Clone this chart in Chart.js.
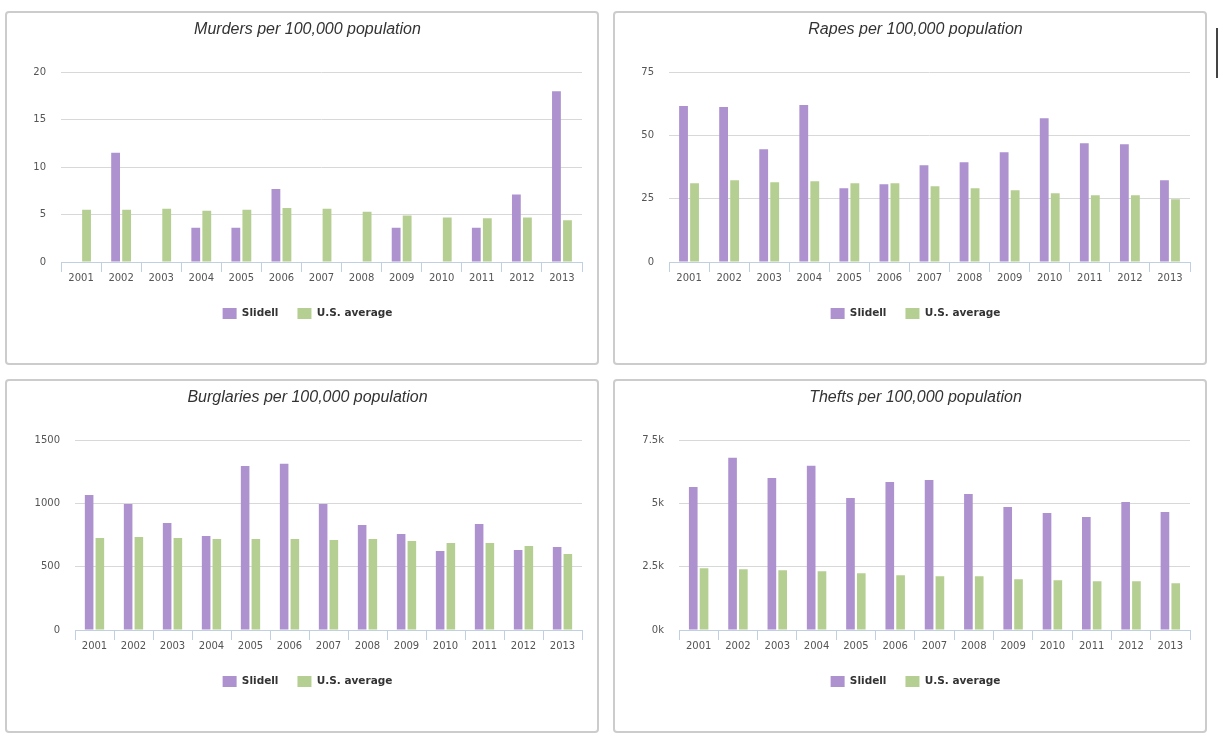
<!DOCTYPE html>
<html>
<head>
<meta charset="utf-8">
<script src="https://cdn.jsdelivr.net/npm/chart.js@4.4.1/dist/chart.umd.min.js"></script>
<style>
  html, body { margin: 0; padding: 0; background: #fff; }
  body { width: 1218px; height: 744px; position: relative; overflow: hidden; }
  .panel {
    position: absolute;
    width: 594px; height: 354px;
    box-sizing: border-box;
    border: 2px solid #cccccc;
    border-radius: 4px;
    background: #fff;
  }
  .panel .inner { position: relative; width: 590px; height: 350px; }
  .bar-edge { position: absolute; left: 1216px; top: 28px; width: 2px; height: 50px; background: #444; }
</style>
</head>
<body>
  <div class="panel" style="left:5px; top:11px;"><div class="inner"><canvas id="murders"></canvas></div></div>
  <div class="panel" style="left:613px; top:11px;"><div class="inner"><canvas id="rapes"></canvas></div></div>
  <div class="panel" style="left:5px; top:379px;"><div class="inner"><canvas id="burglaries"></canvas></div></div>
  <div class="panel" style="left:613px; top:379px;"><div class="inner"><canvas id="thefts"></canvas></div></div>
  <div class="bar-edge"></div>

<script>
// 年
const years = ['2001', '2002', '2003', '2004', '2005', '2006', '2007', '2008', '2009', '2010', '2011', '2012', '2013'];

// 殺人
const murdersSlidell = [0, 11.5, 0, 3.6, 3.6, 7.7, 0, 0, 3.6, 0, 3.6, 7.1, 18.0];
const murdersUS = [5.5, 5.5, 5.6, 5.4, 5.5, 5.7, 5.6, 5.3, 4.9, 4.7, 4.6, 4.7, 4.4];
const murdersTicks = ['0', '5', '10', '15', '20'];

// レイプ
const rapesSlidell = [61.6, 61.2, 44.6, 62.0, 29.1, 30.7, 38.2, 39.4, 43.4, 56.8, 46.9, 46.5, 32.3];
const rapesUS = [31.1, 32.3, 31.5, 31.9, 31.1, 31.1, 29.9, 29.1, 28.4, 27.2, 26.4, 26.4, 24.8];
const rapesTicks = ['0', '25', '50', '75'];

// 侵入盗
const burglariesSlidell = [1067, 996, 845, 742, 1297, 1313, 996, 830, 758, 624, 838, 632, 655];
const burglariesUS = [727, 735, 727, 719, 719, 719, 711, 719, 703, 687, 687, 663, 600];
const burglariesTicks = ['0', '500', '1000', '1500'];

// 窃盗
const theftsSlidell = [5653, 6803, 6010, 6486, 5218, 5852, 5931, 5376, 4861, 4624, 4465, 5060, 4663];
const theftsUS = [2445, 2405, 2365, 2326, 2246, 2167, 2128, 2128, 2009, 1969, 1930, 1930, 1850];
const theftsTicks = ['0k', '2.5k', '5k', '7.5k'];

const PURPLE = '#ad92cf';
const GREEN = '#b5cf92';

function makeChart(id, title, slidell, us, max, step, tickLabels, yWidth) {
  const ctx = document.getElementById(id);
  return new Chart(ctx, {
    type: 'bar',
    data: {
      labels: years,
      datasets: [
        { label: 'Slidell', data: slidell, backgroundColor: PURPLE, borderWidth: 0 },
        { label: 'U.S. average', data: us, backgroundColor: GREEN, borderWidth: 0 }
      ]
    },
    options: {
      responsive: true,
      maintainAspectRatio: false,
      animation: false,
      categoryPercentage: 0.55,
      barPercentage: 0.8,
      // 左の余白でタイトルと凡例を右に寄せる
      layout: { padding: { left: 26, right: 15, top: 0, bottom: 34 } },
      plugins: {
        title: {
          display: true,
          text: title,
          color: '#333333',
          font: { family: 'Liberation Sans', size: 16, style: 'italic', weight: 'normal' },
          padding: { top: 7, bottom: 33 }
        },
        legend: {
          position: 'bottom',
          labels: {
            boxWidth: 14,
            boxHeight: 11,
            padding: 19,
            color: '#333333',
            font: { family: 'DejaVu Sans', size: 10.5, weight: 'bold' }
          }
        },
        tooltip: { enabled: false }
      },
      scales: {
        x: {
          grid: { drawOnChartArea: false, drawTicks: true, tickLength: 10, color: '#c0d0e0' },
          border: { display: true, color: '#c0d0e0', width: 1 },
          ticks: { color: '#555555', padding: 0, font: { family: 'DejaVu Sans', size: 10 }, maxRotation: 0 },
          afterFit: function(scale) { scale.height = 27; }
        },
        y: {
          min: 0,
          max: max,
          ticks: {
            stepSize: step,
            padding: 15,
            color: '#555555',
            font: { family: 'DejaVu Sans', size: 10 },
            callback: function(value, index) { return tickLabels[index]; }
          },
          grid: { color: '#d8d8d8', drawTicks: false },
          border: { display: false },
          afterFit: function(scale) { scale.width = yWidth - 26; }
        }
      }
    }
  });
}

makeChart('murders', 'Murders per 100,000 population', murdersSlidell, murdersUS, 20, 5, murdersTicks, 54);
makeChart('rapes', 'Rapes per 100,000 population', rapesSlidell, rapesUS, 75, 25, rapesTicks, 54);
makeChart('burglaries', 'Burglaries per 100,000 population', burglariesSlidell, burglariesUS, 1500, 500, burglariesTicks, 68);
makeChart('thefts', 'Thefts per 100,000 population', theftsSlidell, theftsUS, 7500, 2500, theftsTicks, 64);
</script>
</body>
</html>
